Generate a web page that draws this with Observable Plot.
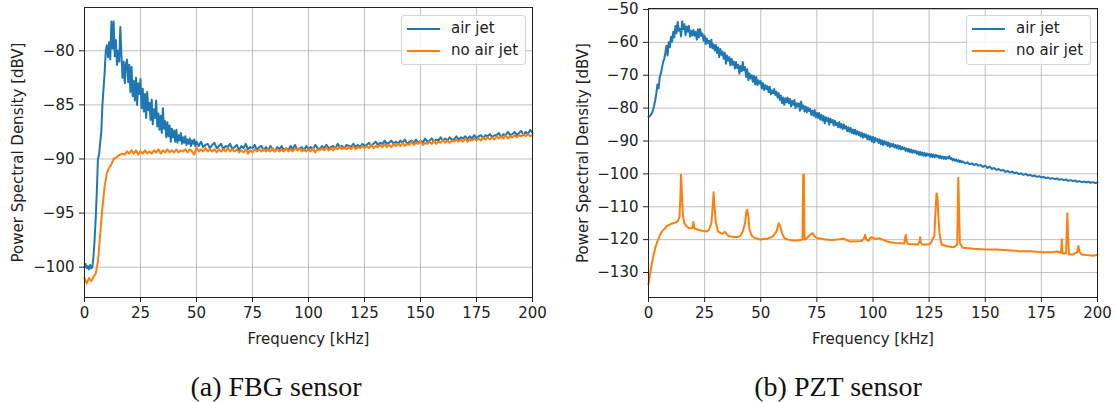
<!DOCTYPE html>
<html>
<head>
<meta charset="utf-8">
<script src="https://cdn.jsdelivr.net/npm/d3@7"></script>
<script src="https://cdn.jsdelivr.net/npm/@observablehq/plot@0.6"></script>
<style>
  html, body { margin: 0; padding: 0; background: #fff; }
  #root { position: relative; width: 1116px; height: 402px; overflow: hidden; background: #fff; }
  .panel { position: absolute; top: 0; }
  .legend { position: absolute; width: 123px; height: 48px; border: 1px solid #d4d4d4; border-radius: 3px;
            background: rgba(255,255,255,0.85); font-family: "DejaVu Sans", sans-serif; font-size: 15px; color: #222; }
  .legend .row { position: absolute; left: 0; height: 20px; width: 120px; }
  .legend .sw { position: absolute; left: 5px; width: 33px; height: 2px; }
  .legend .lb { position: absolute; left: 49px; white-space: nowrap; line-height: 18px; }
  .caption { position: absolute; top: 371px; font-family: "Liberation Serif", "Times New Roman", serif; font-size: 28px; color: #111;
             white-space: nowrap; transform: translateX(-50%); }
</style>
</head>
<body>
<div id="root"></div>
<script>
// ---------- data ----------
const xTicks = [0, 25, 50, 75, 100, 125, 150, 175, 200];
const fbgYTicks = [-100, -95, -90, -85, -80];
const pztYTicks = [-130, -120, -110, -100, -90, -80, -70, -60, -50];
const seriesNames = ["air jet", "no air jet"];
const seriesColors = ["#1f77b4", "#ff7f0e"];
const captions = ["(a) FBG sensor", "(b) PZT sensor"];

// FBG, air jet: 0–50 kHz every 0.5 kHz, then 51–200 kHz every 1 kHz
const fbgAirJetLow = [
-100.0,-99.7,-100.1,-99.9,-100.2,-99.8,-100.1,-100.0,-99.0,-97.5,
-95.5,-93.0,-90.0,-89.6,-88.5,-87.5,-85.0,-83.5,-82.0,-80.0,
-79.5,-80.6,-79.2,-80.8,-77.3,-79.8,-77.3,-80.5,-79.0,-81.3,
-80.0,-81.0,-77.8,-80.5,-82.5,-81.0,-83.0,-81.2,-80.8,-82.9,
-81.3,-83.8,-81.5,-84.2,-82.8,-84.6,-82.5,-85.0,-83.0,-84.0,
-82.6,-85.3,-83.5,-85.6,-84.0,-86.2,-83.8,-85.5,-84.8,-86.4,
-84.5,-86.8,-85.4,-86.2,-84.6,-87.0,-85.8,-87.3,-86.0,-87.6,
-85.3,-87.2,-86.5,-88.0,-86.6,-87.9,-86.9,-88.4,-87.2,-88.0,
-87.4,-88.4,-87.3,-88.5,-87.8,-88.3,-87.6,-88.6,-88.0,-88.5,
-87.9,-88.7,-88.2,-88.6,-88.1,-88.8,-88.3,-88.6,-88.2,-88.8,
-88.4
];
const fbgAirJetHigh = [
-88.8,-88.4,-88.9,-88.7,-88.6,-89.0,-88.7,-88.5,-89.0,-88.8,
-88.6,-89.1,-88.8,-88.9,-88.6,-89.1,-88.9,-88.7,-89.2,-88.8,
-89.0,-88.6,-89.1,-88.9,-89.0,-88.7,-89.2,-88.9,-88.8,-89.2,
-88.9,-89.2,-88.8,-89.1,-89.3,-88.9,-89.1,-88.8,-89.2,-89.0,
-89.2,-88.8,-89.1,-88.7,-89.2,-89.0,-88.9,-89.2,-88.8,-89.1,
-88.9,-89.1,-88.7,-89.0,-89.1,-88.8,-89.0,-88.7,-89.0,-88.9,
-88.8,-89.0,-88.6,-88.9,-88.8,-89.0,-88.7,-88.8,-88.9,-88.6,
-88.9,-88.7,-88.9,-88.6,-88.8,-88.7,-88.5,-88.8,-88.6,-88.4,
-88.7,-88.5,-88.6,-88.3,-88.6,-88.5,-88.3,-88.6,-88.4,-88.6,
-88.3,-88.5,-88.2,-88.6,-88.4,-88.3,-88.5,-88.2,-88.5,-88.3,
-88.5,-88.1,-88.4,-88.3,-88.1,-88.4,-88.2,-88.3,-88.0,-88.3,
-88.1,-88.3,-88.0,-88.2,-88.2,-87.9,-88.2,-88.0,-88.1,-87.9,
-88.2,-87.9,-88.1,-87.8,-88.1,-87.9,-87.8,-88.1,-87.8,-87.9,
-87.7,-88.0,-87.8,-87.8,-87.6,-88.0,-87.7,-87.8,-87.5,-87.8,
-87.7,-87.5,-87.8,-87.6,-87.4,-87.8,-87.5,-87.7,-87.3,-87.6
];
// FBG, no air jet: 0–200 kHz every 1 kHz
const fbgNoAirJet = [
-101.0,-101.5,-101.0,-101.3,-100.9,-100.6,-99.5,-97.0,-94.5,-92.5,
-91.3,-90.8,-90.5,-90.0,-89.9,-89.7,-89.6,-89.5,-89.6,-89.3,
-89.5,-89.2,-89.5,-89.2,-89.6,-89.3,-89.5,-89.2,-89.5,-89.3,
-89.5,-89.2,-89.4,-89.1,-89.5,-89.2,-89.4,-89.1,-89.4,-89.2,
-89.4,-89.1,-89.4,-89.2,-89.3,-89.1,-89.4,-89.1,-89.3,-89.6,
-88.9,-89.3,-89.1,-89.3,-89.0,-89.3,-89.1,-89.3,-89.1,-89.4,
-89.1,-89.3,-89.1,-89.3,-89.0,-89.3,-89.1,-89.3,-89.1,-89.4,
-89.2,-89.4,-89.1,-89.5,-89.2,-89.4,-89.1,-89.3,-89.1,-89.3,
-89.1,-89.3,-89.1,-89.3,-89.0,-89.3,-89.1,-89.3,-89.1,-89.3,
-89.0,-89.3,-89.1,-89.3,-89.0,-89.2,-89.0,-89.3,-89.1,-89.3,
-89.1,-89.3,-89.0,-89.4,-89.1,-89.2,-89.0,-89.2,-88.9,-89.2,
-89.0,-89.2,-88.9,-89.1,-88.9,-89.1,-88.9,-89.1,-88.9,-89.1,
-88.8,-89.1,-88.9,-89.0,-88.8,-89.0,-88.8,-89.0,-88.7,-89.0,
-88.8,-88.9,-88.7,-88.9,-88.6,-88.9,-88.7,-88.9,-88.6,-88.8,
-88.6,-88.8,-88.5,-88.8,-88.6,-88.7,-88.4,-88.7,-88.5,-88.6,
-88.3,-88.7,-88.5,-88.6,-88.4,-88.6,-88.3,-88.6,-88.4,-88.5,
-88.2,-88.5,-88.3,-88.5,-88.3,-88.4,-88.2,-88.4,-88.2,-88.4,
-88.1,-88.4,-88.2,-88.3,-88.1,-88.3,-88.1,-88.3,-88.0,-88.2,
-88.0,-88.2,-88.0,-88.2,-87.9,-88.1,-87.9,-88.1,-87.8,-88.1,
-87.9,-88.0,-87.8,-88.0,-87.8,-87.9,-87.7,-87.9,-87.7,-87.9,
-87.8
];

// PZT, air jet: 0–140 kHz every 0.5 kHz, then 141–200 kHz every 1 kHz
const pztAirJetLow = [
-82.6,-82.5,-82.1,-81.5,-80.6,-79.3,-77.6,-75.5,-72.8,-74.0,
-70.5,-69.5,-67.8,-66.0,-65.0,-63.2,-61.0,-64.0,-60.0,-61.5,
-58.3,-59.8,-56.8,-58.5,-55.0,-57.2,-53.8,-56.5,-55.8,-58.2,
-53.6,-56.0,-54.5,-57.8,-55.2,-56.8,-55.0,-58.2,-56.5,-57.9,
-56.2,-58.0,-56.8,-59.2,-56.0,-58.5,-55.9,-58.0,-57.3,-59.5,
-58.0,-60.5,-58.8,-60.2,-59.5,-61.5,-59.2,-61.8,-60.6,-62.5,
-60.8,-63.2,-61.5,-64.5,-62.0,-63.8,-62.8,-65.0,-63.2,-66.5,
-64.0,-65.6,-64.5,-67.0,-65.0,-66.8,-65.8,-68.0,-66.0,-67.8,
-66.8,-69.5,-67.2,-68.8,-66.0,-68.5,-67.5,-70.5,-68.2,-71.5,
-69.5,-71.0,-70.0,-72.0,-70.2,-72.8,-70.5,-73.0,-71.5,-72.6,
-71.8,-74.0,-72.4,-74.5,-73.0,-74.2,-73.3,-75.2,-73.5,-75.8,
-74.6,-75.5,-74.2,-76.0,-75.0,-76.8,-75.5,-77.5,-76.2,-78.5,
-76.8,-79.0,-77.0,-78.2,-76.8,-78.5,-77.2,-79.5,-77.8,-79.0,
-77.5,-80.0,-78.5,-79.5,-78.6,-80.8,-78.0,-80.2,-79.2,-81.0,
-79.5,-81.3,-79.8,-80.9,-80.2,-82.0,-80.8,-82.3,-80.6,-82.8,
-81.5,-83.0,-81.5,-83.5,-82.0,-83.8,-82.4,-84.6,-82.8,-84.0,
-83.0,-85.0,-83.2,-84.4,-83.6,-85.3,-83.8,-85.2,-84.5,-85.8,
-84.2,-86.0,-84.8,-86.4,-85.0,-86.2,-85.5,-87.0,-85.8,-87.2,
-86.0,-87.6,-86.5,-87.8,-86.6,-88.0,-87.0,-88.2,-87.3,-88.6,
-87.5,-89.0,-87.8,-88.8,-88.0,-89.5,-88.3,-89.6,-88.6,-90.2,
-88.8,-90.5,-89.0,-90.0,-89.4,-90.6,-89.5,-91.0,-89.8,-91.2,
-90.0,-91.0,-90.3,-91.5,-90.5,-91.8,-90.8,-91.6,-90.9,-92.0,
-91.2,-92.2,-91.3,-92.4,-91.5,-92.6,-91.8,-92.5,-92.0,-93.0,
-92.3,-93.2,-92.4,-93.4,-92.6,-93.6,-92.8,-93.5,-93.0,-93.9,
-93.2,-94.2,-93.3,-94.3,-93.5,-94.5,-93.6,-94.6,-93.8,-94.4,
-93.9,-94.8,-94.0,-94.9,-94.1,-95.0,-94.2,-94.8,-94.4,-95.2,
-94.5,-95.3,-94.7,-95.4,-94.8,-95.5,-94.9,-95.3,-94.6,-95.5,
-95.2,-95.9,-95.4,-96.0,-95.6,-96.2,-95.8,-96.4,-96.0,-96.5,
-96.2
];
const pztAirJetHigh = [
-96.8,-96.5,-97.1,-96.8,-97.3,-97.0,-97.5,-97.3,-97.9,-97.5,
-98.2,-97.8,-98.5,-98.2,-98.8,-98.5,-99.0,-98.8,-99.4,-99.1,
-99.6,-99.3,-99.8,-99.6,-100.1,-99.8,-100.3,-100.0,-100.5,-100.3,
-100.7,-100.5,-100.9,-100.7,-101.1,-100.9,-101.3,-101.1,-101.5,-101.3,
-101.6,-101.4,-101.8,-101.6,-101.9,-101.7,-102.1,-101.9,-102.2,-102.0,
-102.4,-102.2,-102.5,-102.3,-102.6,-102.4,-102.7,-102.5,-102.8,-102.6
];

// PZT, no air jet: frequency (kHz) and PSD (dBV) read point by point
const pztNoAirJetFreq = [
0,0.5,1,2,3,4,5,6,7,8,9,10,11,12,13,13.8,14.2,14.5,14.9,15.3,16,17,18,19.5,20,20.5,22,24,26,27,28,28.6,29,29.4,30,31,32,33,34,35,36,38,40,41,42,43,43.6,44,44.5,45,46,47,49,50,51,53,55,56,57,58,58.7,59.5,60.5,62,65,67,68.6,68.9,69.2,69.5,71,72,73,74,75,78,80,82,85,87,88,90,93,95,96,96.5,97,98,99,100,101,103,105,107,110,112,113.9,114.3,114.6,115,115.5,118,120,120.8,121,121.3,122,125,126,126.5,127.3,127.8,128.3,128.7,129.2,129.7,130.5,133,136,137.5,137.8,138,138.3,138.7,140,145,150,155,160,165,170,175,180,182,183.8,184.1,184.4,186,186.3,186.6,186.9,187.3,189,191,191.5,192,193,195,198,200
];
const pztNoAirJet = [
-133.6,-131.5,-129,-125.6,-122.5,-120.5,-118.8,-117.5,-116.8,-116,-115.6,-115.2,-115,-114.8,-114.4,-113,-107,-100.3,-106,-112.5,-115,-116,-116.5,-116.5,-114.6,-116.6,-117,-117.3,-117.5,-117,-115,-110,-105.6,-110,-114.7,-117.5,-118,-118.2,-117.6,-118.5,-119,-119.2,-119.2,-118.8,-117.5,-115,-111.5,-110.9,-113,-117,-118.8,-119.4,-119.8,-120,-119.8,-119.7,-119.2,-118.5,-117.5,-115,-116,-118,-119.5,-120,-120.3,-120.2,-120,-100.2,-100.2,-120,-119.3,-118.5,-118,-119,-119.5,-119.9,-120,-120.1,-119.9,-119.7,-120.1,-120.6,-120.5,-120.4,-119.6,-118.5,-120,-120.4,-119.3,-119.4,-119.8,-119.6,-120.2,-120.7,-121,-121.1,-121.2,-119.5,-118.5,-120.5,-121.3,-121.4,-121.5,-120.5,-119.3,-121,-121.5,-121.5,-120.8,-119.8,-119,-112,-106,-107,-114,-118.5,-121.5,-122,-122.3,-121.5,-110,-101.2,-110,-121,-122.5,-122.8,-123,-123,-123.2,-123.5,-123.5,-123.8,-123.8,-123.6,-124,-119.9,-124.2,-124.2,-118,-112,-119,-124.5,-124.5,-123.8,-121.9,-123.8,-124.5,-124.7,-124.9,-124.6
];

// ---------- build ----------
const seg = (start, step, vals) => vals.map((v, i) => ({f: start + i * step, v}));
const pairRows = (fs, vs) => fs.map((f, i) => ({f, v: vs[i]}));

const root = document.getElementById("root");
const gridStyle = {stroke: "#b0b0b0", strokeOpacity: 1, strokeWidth: 0.8};

function panel(opts) {
  const svg = Plot.plot({
    width: 558, height: 350,
    marginLeft: opts.ml, marginRight: opts.mr, marginTop: opts.mt, marginBottom: 53,
    style: {fontFamily: "DejaVu Sans, sans-serif", fontSize: "15px", color: "#222", background: "transparent", overflow: "visible"},
    x: {domain: [0, 200]},
    y: {domain: opts.yDomain},
    marks: [
      Plot.gridX(xTicks, gridStyle),
      Plot.gridY(opts.yTicks, gridStyle),
      Plot.line(opts.blue, {x: "f", y: "v", stroke: seriesColors[0], strokeWidth: 2, strokeLinejoin: "round"}),
      Plot.line(opts.orange, {x: "f", y: "v", stroke: seriesColors[1], strokeWidth: 2, strokeLinejoin: "round"}),
      Plot.frame({stroke: "#222", strokeWidth: 1}),
      Plot.axisX({ticks: xTicks, tickSize: 5, tickPadding: 5, label: "Frequency [kHz]", labelAnchor: "center", labelArrow: "none", labelOffset: 46}),
      Plot.axisY({ticks: opts.yTicks, tickSize: 5, tickPadding: 5, label: "Power Spectral Density [dBV]", labelAnchor: "center", labelArrow: "none", labelOffset: opts.lo})
    ]
  });
  const wrap = document.createElement("div");
  wrap.className = "panel";
  wrap.style.left = opts.left + "px";
  wrap.appendChild(svg);
  root.appendChild(wrap);

  const lg = document.createElement("div");
  lg.className = "legend";
  lg.style.left = opts.legendLeft + "px";
  lg.style.top = "15px";
  seriesNames.forEach((name, i) => {
    const row = document.createElement("div");
    row.className = "row";
    row.style.top = (3 + i * 22) + "px";
    row.innerHTML = `<div class="sw" style="top:9px;background:${seriesColors[i]}"></div><div class="lb">${name}</div>`;
    lg.appendChild(row);
  });
  root.appendChild(lg);

  const cap = document.createElement("div");
  cap.className = "caption";
  cap.style.left = opts.capX + "px";
  cap.textContent = opts.caption;
  root.appendChild(cap);
}

panel({
  left: 0, ml: 84, mr: 26, mt: 7, lo: 72,
  yDomain: [-102.8, -76.0], yTicks: fbgYTicks,
  blue: seg(0, 0.5, fbgAirJetLow).concat(seg(51, 1, fbgAirJetHigh)),
  orange: seg(0, 1, fbgNoAirJet),
  legendLeft: 401, capX: 276, caption: captions[0]
});
panel({
  left: 558, ml: 90, mr: 19, mt: 8, lo: 71,
  yDomain: [-137.6, -49.7], yTicks: pztYTicks,
  blue: seg(0, 0.5, pztAirJetLow).concat(seg(141, 1, pztAirJetHigh)),
  orange: pairRows(pztNoAirJetFreq, pztNoAirJet),
  legendLeft: 966, capX: 838, caption: captions[1]
});
</script>
</body>
</html>
